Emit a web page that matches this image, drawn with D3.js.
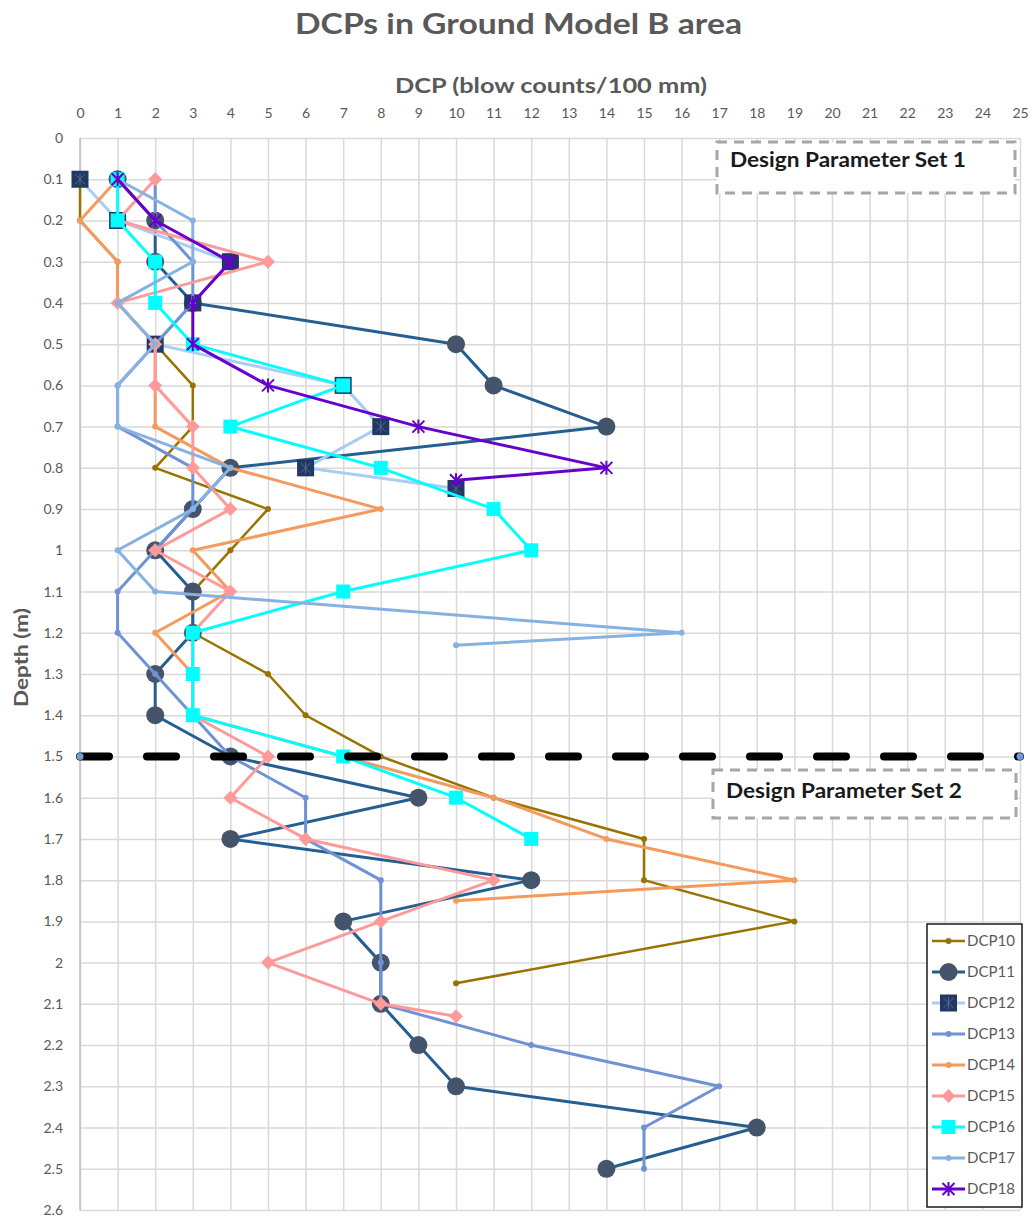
<!DOCTYPE html>
<html>

<head>
    <meta charset="utf-8" />
    <title>DCPs in Ground Model B area</title>
    <style>
        body {
            margin: 0;
            background: #fff;
        }

        svg text {
            font-family: Lato, "Open Sans", sans-serif;
        }
    </style>
</head>

<body>
    <div id="chart"></div>
    <script src="https://cdn.jsdelivr.net/npm/d3@7"></script>
    <script>
        // depth (m) against blow counts per 100 mm
        var dcp10Depth = [0.1, 0.2, 0.3, 0.4, 0.5, 0.6, 0.7, 0.8, 0.9, 1.0, 1.1, 1.2, 1.3, 1.4, 1.5, 1.6, 1.7, 1.8, 1.9, 2.05];
        var dcp10Blows = [0, 0, 1, 1, 2, 3, 3, 2, 5, 4, 3, 3, 5, 6, 8, 11, 15, 15, 19, 10];

        var dcp11Depth = [0.1, 0.2, 0.3, 0.4, 0.5, 0.6, 0.7, 0.8, 0.9, 1.0, 1.1, 1.2, 1.3, 1.4, 1.5, 1.6, 1.7, 1.8, 1.9, 2.0, 2.1, 2.2, 2.3, 2.4, 2.5];
        var dcp11Blows = [1, 2, 2, 3, 10, 11, 14, 4, 3, 2, 3, 3, 2, 2, 4, 9, 4, 12, 7, 8, 8, 9, 10, 18, 14];

        var dcp12Depth = [0.1, 0.2, 0.3, 0.4, 0.5, 0.6, 0.7, 0.8, 0.85];
        var dcp12Blows = [0, 1, 4, 3, 2, 7, 8, 6, 10];

        var dcp13Depth = [0.1, 0.2, 0.3, 0.4, 0.5, 0.6, 0.7, 0.8, 0.9, 1.0, 1.1, 1.2, 1.3, 1.4, 1.5, 1.6, 1.7, 1.8, 1.9, 2.0, 2.1, 2.2, 2.3, 2.4, 2.5];
        var dcp13Blows = [2, 2, 3, 3, 2, 1, 1, 3, 3, 2, 1, 1, 2, 3, 4, 6, 6, 8, 8, 8, 8, 12, 17, 15, 15];

        var dcp14Depth = [0.1, 0.2, 0.3, 0.4, 0.5, 0.6, 0.7, 0.8, 0.9, 1.0, 1.1, 1.2, 1.3, 1.4, 1.5, 1.6, 1.7, 1.8, 1.85];
        var dcp14Blows = [1, 0, 1, 1, 2, 2, 2, 4, 8, 3, 4, 2, 3, 3, 7, 11, 14, 19, 10];

        var dcp15Depth = [0.1, 0.2, 0.3, 0.4, 0.5, 0.6, 0.7, 0.8, 0.9, 1.0, 1.1, 1.2, 1.3, 1.4, 1.5, 1.6, 1.7, 1.8, 1.9, 2.0, 2.1, 2.13];
        var dcp15Blows = [2, 1, 5, 1, 2, 2, 3, 3, 4, 2, 4, 3, 3, 3, 5, 4, 6, 11, 8, 5, 8, 10];

        var dcp16Depth = [0.1, 0.2, 0.3, 0.4, 0.5, 0.6, 0.7, 0.8, 0.9, 1.0, 1.1, 1.2, 1.3, 1.4, 1.5, 1.6, 1.7];
        var dcp16Blows = [1, 1, 2, 2, 3, 7, 4, 8, 11, 12, 7, 3, 3, 3, 7, 10, 12];

        var dcp17Depth = [0.1, 0.2, 0.3, 0.4, 0.5, 0.6, 0.7, 0.8, 0.9, 1.0, 1.1, 1.2, 1.23];
        var dcp17Blows = [1, 3, 3, 1, 2, 1, 1, 4, 3, 1, 2, 16, 10];

        var dcp18Depth = [0.1, 0.2, 0.3, 0.4, 0.5, 0.6, 0.7, 0.8, 0.83];
        var dcp18Blows = [1, 2, 4, 3, 3, 5, 9, 14, 10];

        // boundary between the two design parameter sets
        var boundaryDepth = [1.5, 1.5];
        var boundaryBlows = [0, 25];

        var blowTicks = [0, 1, 2, 3, 4, 5, 6, 7, 8, 9, 10, 11, 12, 13, 14, 15, 16, 17, 18, 19, 20, 21, 22, 23, 24, 25];
        var depthTicks = [0, 0.1, 0.2, 0.3, 0.4, 0.5, 0.6, 0.7, 0.8, 0.9, 1, 1.1, 1.2, 1.3, 1.4, 1.5, 1.6, 1.7, 1.8, 1.9, 2, 2.1, 2.2, 2.3, 2.4, 2.5, 2.6];

        var series = [
            { name: "DCP10", depth: dcp10Depth, blows: dcp10Blows, line: "#997300", lw: 2.5, marker: "dot", fill: "#997300" },
            { name: "DCP11", depth: dcp11Depth, blows: dcp11Blows, line: "#255e91", lw: 3, marker: "circle", fill: "#44546a" },
            { name: "DCP12", depth: dcp12Depth, blows: dcp12Blows, line: "#a9cdf3", lw: 3, marker: "box", fill: "#1f3864" },
            { name: "DCP13", depth: dcp13Depth, blows: dcp13Blows, line: "#6f92d4", lw: 3, marker: "dot", fill: "#6f92d4" },
            { name: "DCP14", depth: dcp14Depth, blows: dcp14Blows, line: "#f39a5c", lw: 3, marker: "dot", fill: "#f39a5c" },
            { name: "DCP15", depth: dcp15Depth, blows: dcp15Blows, line: "#ff9a9a", lw: 3, marker: "diamond", fill: "#ff9a9a" },
            { name: "DCP16", depth: dcp16Depth, blows: dcp16Blows, line: "#00ffff", lw: 3, marker: "square", fill: "#00ffff" },
            { name: "DCP17", depth: dcp17Depth, blows: dcp17Blows, line: "#86b2e3", lw: 3, marker: "dot", fill: "#86b2e3" },
            { name: "DCP18", depth: dcp18Depth, blows: dcp18Blows, line: "#6600cc", lw: 3, marker: "star", fill: "#6600cc" }
        ];

        var W = 1032, H = 1218;
        var svg = d3.select("#chart").append("svg")
            .attr("width", W)
            .attr("height", H);

        var x = d3.scaleLinear().domain([0, 25]).range([80, 1020]);
        var y = d3.scaleLinear().domain([0, 2.6]).range([138, 1210]);

        // top axis + vertical grid
        var xAxis = svg.append("g")
            .attr("transform", "translate(0," + y(0) + ")")
            .call(d3.axisTop(x).tickValues(blowTicks).tickSize(-(y(2.6) - y(0))).tickPadding(20));

        // left axis + horizontal grid
        var yAxis = svg.append("g")
            .attr("transform", "translate(" + x(0) + ",0)")
            .call(d3.axisLeft(y).tickValues(depthTicks).tickSize(-(x(25) - x(0))).tickPadding(17)
                .tickFormat(function(d) { return String(d); }));

        [xAxis, yAxis].forEach(function(g) {
            g.select(".domain").remove();
            g.selectAll(".tick line").attr("stroke", "#d9d9d9").attr("stroke-width", 1.5);
            g.selectAll(".tick text")
                .attr("fill", "#595959")
                .style("font-size", "14px");
        });

        svg.append("line")
            .attr("x1", x(0)).attr("x2", x(0))
            .attr("y1", y(0)).attr("y2", y(2.6))
            .attr("stroke", "#bfbfbf")
            .attr("stroke-width", 1.5);

        var line = d3.line()
            .x(function(d) { return x(d.b); })
            .y(function(d) { return y(d.d); });

        function points(s) {
            return s.depth.map(function(d, i) {
                return { d: d, b: s.blows[i] };
            });
        }

        function drawMarker(g, type, fill, cx, cy) {
            if (type === "dot") {
                g.append("circle").attr("cx", cx).attr("cy", cy).attr("r", 3).attr("fill", fill);
            } else if (type === "circle") {
                g.append("circle").attr("cx", cx).attr("cy", cy).attr("r", 9).attr("fill", fill);
            } else if (type === "box") {
                g.append("rect").attr("x", cx - 8.5).attr("y", cy - 8.5).attr("width", 17).attr("height", 17).attr("fill", fill);
                g.append("path")
                    .attr("d", "M" + (cx - 5) + "," + (cy - 5) + "L" + (cx + 5) + "," + (cy + 5) +
                        "M" + (cx + 5) + "," + (cy - 5) + "L" + (cx - 5) + "," + (cy + 5) +
                        "M" + cx + "," + (cy - 6) + "L" + cx + "," + (cy + 6))
                    .attr("stroke", "#5a6b8c").attr("stroke-width", 1);
            } else if (type === "diamond") {
                g.append("path")
                    .attr("d", "M" + cx + "," + (cy - 7) + "L" + (cx + 7) + "," + cy + "L" + cx + "," + (cy + 7) + "L" + (cx - 7) + "," + cy + "Z")
                    .attr("fill", fill);
            } else if (type === "square") {
                g.append("rect").attr("x", cx - 7).attr("y", cy - 7).attr("width", 14).attr("height", 14).attr("fill", fill);
            } else if (type === "star") {
                g.append("path")
                    .attr("d", "M" + (cx - 6) + "," + (cy - 6) + "L" + (cx + 6) + "," + (cy + 6) +
                        "M" + (cx + 6) + "," + (cy - 6) + "L" + (cx - 6) + "," + (cy + 6) +
                        "M" + cx + "," + (cy - 7) + "L" + cx + "," + (cy + 7))
                    .attr("stroke", fill).attr("stroke-width", 2);
            }
        }

        // series in Excel order: line then markers, one after another
        series.forEach(function(s) {
            var g = svg.append("g").attr("class", "series");
            var pts = points(s);
            g.append("path")
                .datum(pts)
                .attr("d", line)
                .attr("fill", "none")
                .attr("stroke", s.line)
                .attr("stroke-width", s.lw)
                .attr("stroke-linejoin", "round");
            pts.forEach(function(p) {
                drawMarker(g, s.marker, s.fill, x(p.b), y(p.d));
            });
        });

        // dashed boundary at 1.5 m
        var bPts = boundaryDepth.map(function(d, i) { return { d: d, b: boundaryBlows[i] }; });
        svg.append("path")
            .datum(bPts)
            .attr("d", line)
            .attr("stroke", "#000")
            .attr("stroke-width", 8)
            .attr("stroke-dasharray", "29 38")
            .attr("stroke-linecap", "round");
        svg.selectAll(".bdot")
            .data(bPts)
            .join("circle")
            .attr("class", "bdot")
            .attr("cx", function(d) { return x(d.b); })
            .attr("cy", function(d) { return y(d.d); })
            .attr("r", 3.5)
            .attr("fill", "#6f9bd8");

        // design parameter set labels
        var boxes = [
            { label: "Design Parameter Set 1", x: 717, y: 142, w: 298, h: 51, tx: 730, ty: 167 },
            { label: "Design Parameter Set 2", x: 713, y: 770, w: 303, h: 48, tx: 726, ty: 798 }
        ];
        boxes.forEach(function(b) {
            svg.append("rect")
                .attr("x", b.x).attr("y", b.y)
                .attr("width", b.w).attr("height", b.h)
                .attr("fill", "#fff")
                .attr("stroke", "#a6a6a6")
                .attr("stroke-width", 3)
                .attr("stroke-dasharray", "10 7");
            svg.append("text")
                .attr("x", b.tx).attr("y", b.ty)
                .attr("fill", "#1a1a1a")
                .attr("font-weight", "bold")
                .attr("textLength", 236)
                .attr("lengthAdjust", "spacingAndGlyphs")
                .style("font-size", "20px")
                .text(b.label);
        });

        // titles
        svg.append("text")
            .attr("x", 295).attr("y", 34)
            .attr("fill", "#595959")
            .attr("font-weight", "bold")
            .attr("textLength", 447)
            .attr("lengthAdjust", "spacingAndGlyphs")
            .style("font-size", "29px")
            .text("DCPs in Ground Model B area");

        svg.append("text")
            .attr("x", 395).attr("y", 93)
            .attr("fill", "#595959")
            .attr("font-weight", "bold")
            .attr("textLength", 312)
            .attr("lengthAdjust", "spacingAndGlyphs")
            .style("font-size", "21px")
            .text("DCP (blow counts/100 mm)");

        svg.append("text")
            .attr("transform", "translate(28,707) rotate(-90)")
            .attr("fill", "#595959")
            .attr("font-weight", "bold")
            .attr("textLength", 99)
            .attr("lengthAdjust", "spacingAndGlyphs")
            .style("font-size", "18px")
            .text("Depth (m)");

        // legend
        var legend = svg.append("g");
        legend.append("rect")
            .attr("x", 927).attr("y", 924)
            .attr("width", 95).attr("height", 283)
            .attr("fill", "#fff")
            .attr("stroke", "#1a1a1a")
            .attr("stroke-width", 1.5);

        series.forEach(function(s, i) {
            var ly = 941 + i * 31;
            var g = legend.append("g");
            g.append("line")
                .attr("x1", 932).attr("x2", 965)
                .attr("y1", ly).attr("y2", ly)
                .attr("stroke", s.line)
                .attr("stroke-width", s.lw);
            drawMarker(g, s.marker, s.fill, 948.5, ly);
            g.append("text")
                .attr("x", 967).attr("y", ly + 5)
                .attr("fill", "#595959")
                .style("font-size", "15px")
                .text(s.name);
        });
    </script>
</body>

</html>
